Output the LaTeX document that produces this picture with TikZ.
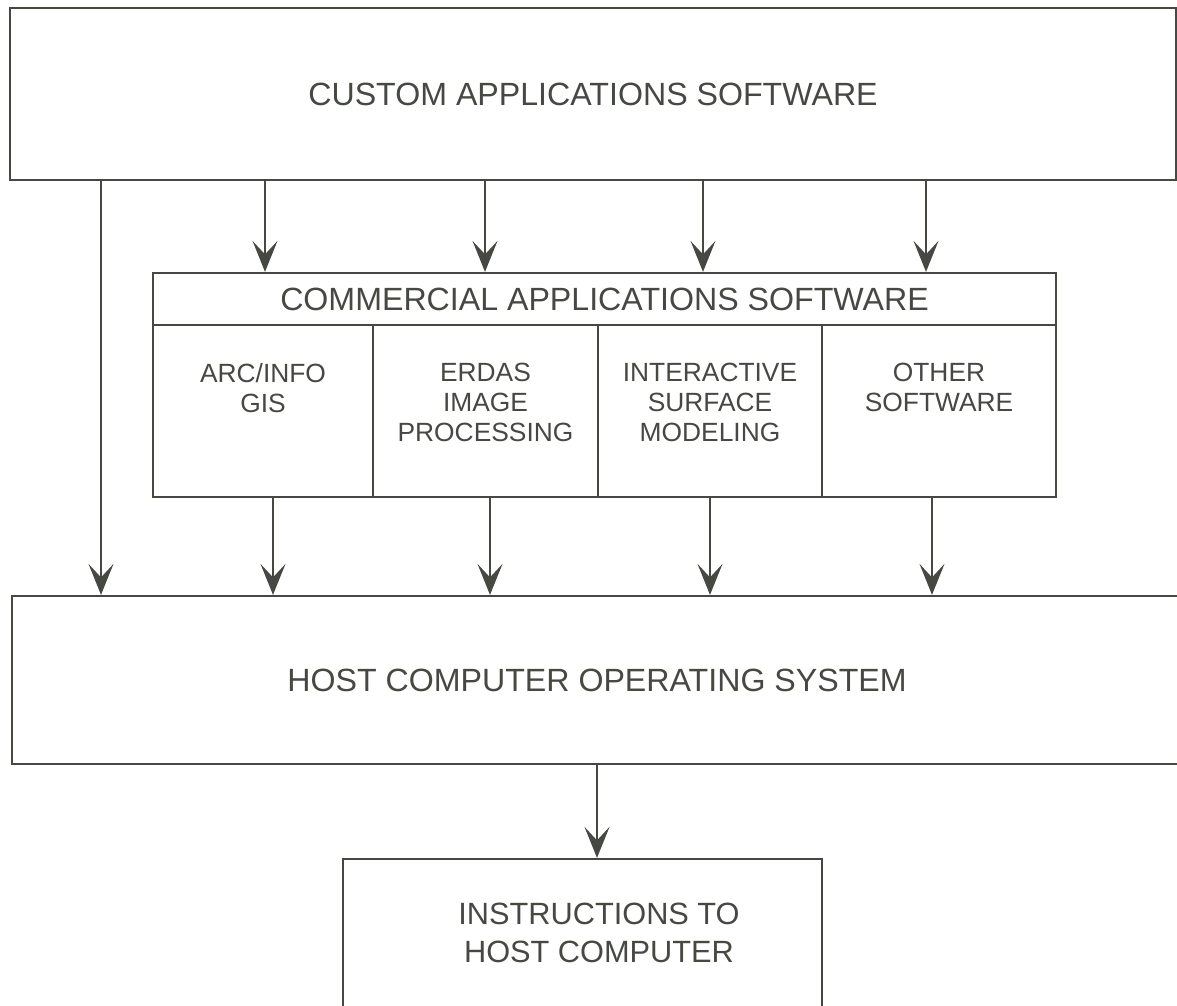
\documentclass[tikz,border=0pt]{standalone}
\usepackage{fontspec}
\setmainfont{Liberation Sans}
\usetikzlibrary{arrows.meta}
\definecolor{ink}{RGB}{70,72,66}

\begin{document}
\begin{tikzpicture}[x=0.02cm, y=-0.02cm, color=ink, line width=1.3pt]
    \tikzstyle{box}=[draw, rectangle, inner sep=0pt, font=\fontsize{18.3}{22}\selectfont]
    \tikzstyle{cell}=[draw, rectangle, inner sep=0pt, minimum height=3.44cm]
    \tikzstyle{celltext}=[inner sep=0pt, anchor=north, align=center, font=\fontsize{15}{17.2}\selectfont]
    \tikzstyle{flow}=[-{Stealth[length=0.62cm, width=0.5cm, inset=0.27cm]}, line width=1.1pt]
    \useasboundingbox (0,0) rectangle (1177,1005);
    % boxes
    \node [box, minimum width=23.32cm, minimum height=3.44cm] (cus) at (593,94) {CUSTOM APPLICATIONS SOFTWARE};
    \node [box, minimum width=18.06cm, minimum height=1.04cm] (head) at (604.5,299) {COMMERCIAL APPLICATIONS SOFTWARE};
    \node [cell, minimum width=4.40cm] (arc) at (263,411) {};
    \node [cell, minimum width=4.50cm] (erd) at (485.5,411) {};
    \node [cell, minimum width=4.48cm] (isu) at (710,411) {};
    \node [cell, minimum width=4.68cm] (oth) at (939,411) {};
    \node [celltext] (arct) at ([yshift=-0.76cm]arc.north) {ARC/INFO\\GIS};
    \node [celltext] (erdt) at ([yshift=-0.76cm]erd.north) {ERDAS\\IMAGE\\PROCESSING};
    \node [celltext] (isut) at ([yshift=-0.76cm]isu.north) {INTERACTIVE\\SURFACE\\MODELING};
    \node [celltext] (otht) at ([yshift=-0.76cm]oth.north) {OTHER\\SOFTWARE};
    \node [box, minimum width=23.40cm, minimum height=3.36cm] (host) at (597,680) {HOST COMPUTER OPERATING SYSTEM};
    \node [box, minimum width=9.58cm, minimum height=3.12cm] (ins) at (582.5,937) {};
    \node [inner sep=0pt, align=center, font=\fontsize{17.5}{21.6}\selectfont] (inst) at (599,933) {INSTRUCTIONS TO\\HOST COMPUTER};
    % arrows
    \foreach \x [count=\i] in {265,485,703,926} \coordinate (t\i) at (\x,0);
    \foreach \x [count=\i] in {273,490,710,932} \coordinate (b\i) at (\x,0);
    \coordinate (lf) at (101,0);
    \coordinate (md) at (597,0);
    \foreach \i in {1,...,4} \draw [flow] (t\i |- cus.south) -- (t\i |- head.north);
    \foreach \i/\c in {1/arc,2/erd,3/isu,4/oth} \draw [flow] (b\i |- \c.south) -- (b\i |- host.north);
    \draw [flow] (lf |- cus.south) -- (lf |- host.north);
    \draw [flow] (md |- host.south) -- (md |- ins.north);
\end{tikzpicture}
\end{document}
